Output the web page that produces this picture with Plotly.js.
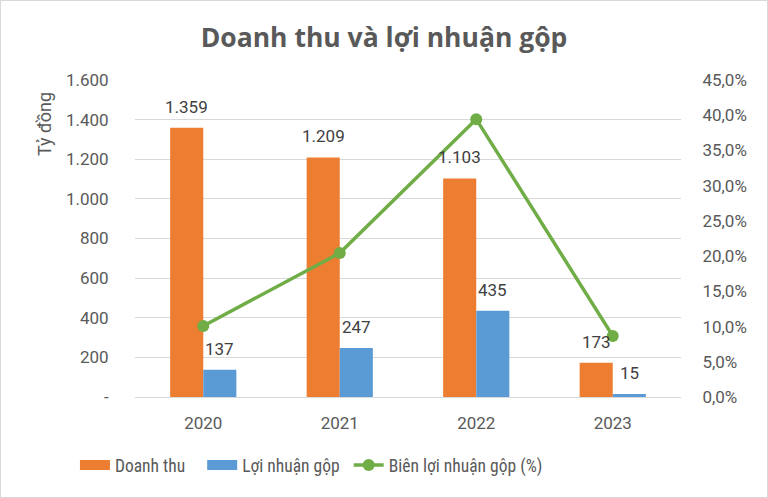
<!DOCTYPE html>
<html><head><meta charset="utf-8">
<script src="https://cdn.plot.ly/plotly-3.0.1.min.js"></script>
<style>
html,body{margin:0;padding:0;background:#fff;}
#chart{width:766px;height:496px;border:1px solid #d9d9d9;}
</style></head>
<body><div id="chart"></div>
<script>
const years = ['2020','2021','2022','2023'];
const revenue = [1359, 1209, 1103, 173];
const grossProfit = [137, 247, 435, 15];
const grossMargin = [0.1008, 0.2043, 0.3944, 0.0867];
const leftTickVals = [0,200,400,600,800,1000,1200,1400,1600];
const leftTickText = ['-','200','400','600','800','1.000','1.200','1.400','1.600'];
const seriesNames = ['Doanh thu', 'Lợi nhuận gộp', 'Biên lợi nhuận gộp (%)'];

const fontFam = 'Roboto, "Open Sans", sans-serif';
const legendFam = '"Liberation Sans Narrow", "Roboto Condensed", Roboto, sans-serif';
const labelFont = {size:17, color:'#404040', family:fontFam};
const NB = '\u00a0';
function thousands(v){ return String(v).replace(/\B(?=(\d{3})+(?!\d))/g, '.'); }

const traces = [
  {type:'bar', name:seriesNames[0], x:years, y:revenue, marker:{color:'#ED7D31'}, hoverinfo:'none', showlegend:false},
  {type:'bar', name:seriesNames[1], x:years, y:grossProfit, marker:{color:'#5B9BD5'}, hoverinfo:'none', showlegend:false},
  {type:'scatter', mode:'lines+markers', name:seriesNames[2], x:years, y:grossMargin,
   yaxis:'y2', line:{color:'#70AD47',width:3.5}, marker:{color:'#70AD47',size:12}, hoverinfo:'none', showlegend:false},
  // legend entries
  {type:'scatter', mode:'lines', name:seriesNames[0] + NB.repeat(3), x:[null], y:[null], line:{color:'#ED7D31',width:10}},
  {type:'scatter', mode:'lines', name:seriesNames[1] + NB, x:[null], y:[null], line:{color:'#5B9BD5',width:10}},
  {type:'scatter', mode:'lines+markers', name:seriesNames[2], x:[null], y:[null], yaxis:'y2',
   line:{color:'#70AD47',width:3.5}, marker:{color:'#70AD47',size:12}}
];

const annotations = [];
years.forEach((yr,i)=>{
  annotations.push({x:i, y:revenue[i], xref:'x', yref:'y', text:thousands(revenue[i]), showarrow:false,
    xshift:-16.6, yshift:9, yanchor:'bottom', xanchor:'center', font:labelFont});
  annotations.push({x:i, y:grossProfit[i], xref:'x', yref:'y', text:thousands(grossProfit[i]), showarrow:false,
    xshift:16.6, yshift:9, yanchor:'bottom', xanchor:'center', font:labelFont});
});
annotations.push({text:'Tỷ đồng', xref:'paper', yref:'paper', x:-0.166, y:0.862, textangle:-90,
  showarrow:false, font:{size:18,color:'#595959',family:fontFam}, xanchor:'center', yanchor:'middle'});

const layout = {
  width:766, height:496,
  margin:{l:134, r:86, t:79, b:100},
  separators:',.',
  paper_bgcolor:'#fff', plot_bgcolor:'#fff',
  font:{family:fontFam, color:'#595959', size:17},
  title:{text:'<b>Doanh thu và lợi nhuận gộp</b>', x:0.5, xanchor:'center', y:0.925, yanchor:'middle',
         font:{size:26.5, color:'#595959', family:'"Open Sans", sans-serif'}},
  barmode:'group', bargap:0.515, bargroupgap:0,
  xaxis:{type:'category', range:[-0.5,3.5], showgrid:false, showline:true, linecolor:'#d9d9d9', linewidth:1,
         ticks:'outside', ticklen:11, tickcolor:'rgba(0,0,0,0)',
         tickfont:{size:17,color:'#595959'}},
  yaxis:{range:[0,1600], tickvals:leftTickVals, ticktext:leftTickText, showgrid:true,
         gridcolor:'#d9d9d9', gridwidth:1, zeroline:false, showline:false,
         ticks:'outside', ticklen:22, tickcolor:'rgba(0,0,0,0)', tickfont:{size:17,color:'#595959'}},
  yaxis2:{range:[0,0.45], overlaying:'y', side:'right', tickformat:'.1%', dtick:0.05,
          showgrid:false, zeroline:false, showline:false,
          ticks:'outside', ticklen:17, tickcolor:'rgba(0,0,0,0)', tickfont:{size:17,color:'#595959'}},
  legend:{orientation:'h', x:-0.11, xanchor:'left', y:-0.215, yanchor:'middle',
          font:{size:17.5,color:'#595959',family:legendFam}, traceorder:'normal', itemwidth:30},
  annotations:annotations
};
Plotly.newPlot('chart', traces, layout, {staticPlot:true});
</script></body></html>
